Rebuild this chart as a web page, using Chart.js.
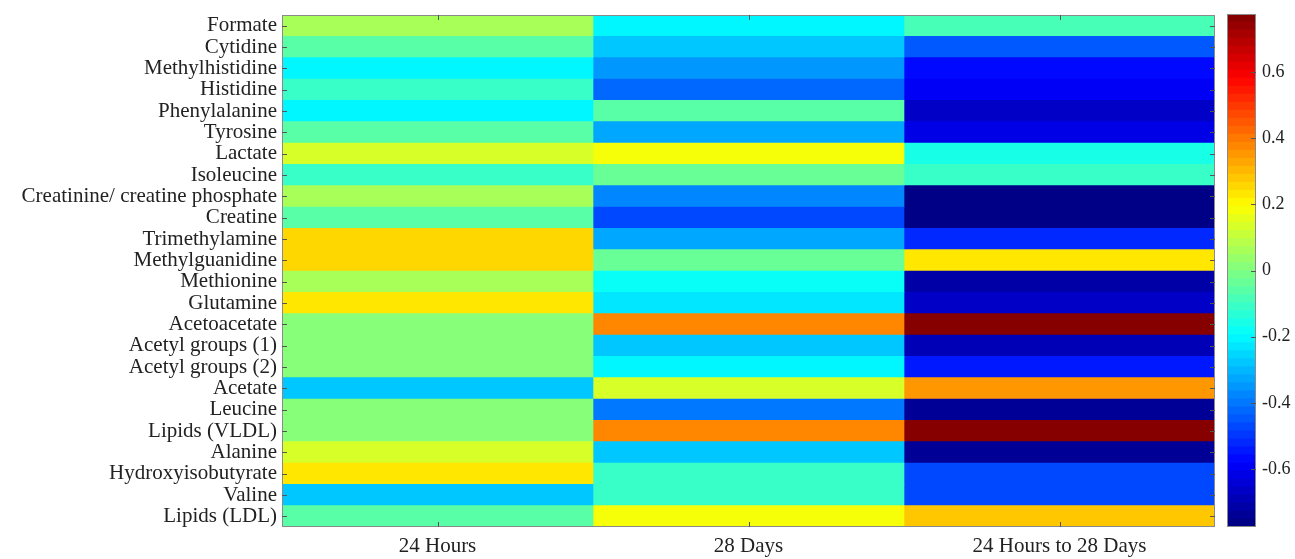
<!DOCTYPE html>
<html>
<head>
<meta charset="utf-8">
<script src="https://cdn.jsdelivr.net/npm/chart.js@4.4.0/dist/chart.umd.min.js"></script>
<style>
  body { margin: 0; background: #fff; }
  #wrap { position: relative; width: 1295px; height: 559px; }
  canvas { position: absolute; top: 0; }
</style>
</head>
<body>
<div id="wrap">
  <canvas id="heat" width="1220" height="559" style="left:0;width:1220px;height:559px"></canvas>
  <canvas id="cbar" width="75" height="559" style="left:1220px;width:75px;height:559px"></canvas>
</div>
<script>
// rows of the heat map, top to bottom
var metabolites = [
  "Formate", "Cytidine", "Methylhistidine", "Histidine", "Phenylalanine", "Tyrosine",
  "Lactate", "Isoleucine", "Creatinine/ creatine phosphate", "Creatine", "Trimethylamine",
  "Methylguanidine", "Methionine", "Glutamine", "Acetoacetate", "Acetyl groups (1)",
  "Acetyl groups (2)", "Acetate", "Leucine", "Lipids (VLDL)", "Alanine",
  "Hydroxyisobutyrate", "Valine", "Lipids (LDL)"
];
var columns = ["24 Hours", "28 Days", "24 Hours to 28 Days"];

// values (jet scale)
var hours24 = [0.05, -0.07, -0.2, -0.1, -0.2, -0.07, 0.14, -0.1, 0.05, -0.07, 0.25, 0.25,
               0.05, 0.22, 0.02, 0.02, 0.02, -0.29, 0.02, 0.02, 0.14, 0.22, -0.29, -0.05];
var days28 = [-0.2, -0.29, -0.35, -0.42, -0.07, -0.32, 0.17, -0.04, -0.37, -0.47, -0.32, -0.03,
              -0.18, -0.24, 0.37, -0.27, -0.2, 0.13, -0.4, 0.37, -0.27, -0.1, -0.1, 0.17];
var hoursToDays = [-0.09, -0.44, -0.58, -0.6, -0.66, -0.62, -0.15, -0.1, -0.76, -0.76, -0.52, 0.22,
                   -0.71, -0.66, 0.77, -0.7, -0.54, 0.35, -0.75, 0.77, -0.75, -0.48, -0.48, 0.27];

var colorTicks = [-0.6, -0.4, -0.2, 0, 0.2, 0.4, 0.6];
var vmin = -0.775, vmax = 0.775;

function clamp(x) { return Math.max(0, Math.min(1, x)); }

// matlab style jet, 64 levels
function jet(v) {
  var t = (v - vmin) / (vmax - vmin);
  var k = Math.min(63, Math.max(0, Math.floor(t * 64)));
  t = (k + 0.5) / 64;
  var r = clamp(1.5 - Math.abs(4 * t - 3));
  var g = clamp(1.5 - Math.abs(4 * t - 2));
  var b = clamp(1.5 - Math.abs(4 * t - 1));
  return 'rgb(' + Math.round(r * 255) + ',' + Math.round(g * 255) + ',' + Math.round(b * 255) + ')';
}

var serif = "'Liberation Serif', 'DejaVu Serif', serif";

// box round the plot plus small inward ticks
var boxPlugin = {
  id: 'box',
  afterDraw: function (chart, args, opts) {
    var c = chart.ctx, a = chart.chartArea;
    c.save();
    c.strokeStyle = '#8a8a8a';
    c.lineWidth = 1;
    c.strokeRect(Math.round(a.left) + 0.5, Math.round(a.top) + 0.5,
      Math.round(a.right - a.left) - 1, Math.round(a.bottom - a.top) - 1);
    c.strokeStyle = '#555';
    var len = 5;
    if (opts.yTicks) {
      var ys = chart.scales[opts.yTicks];
      ys.ticks.forEach(function (tk, i) {
        var y = Math.round(ys.getPixelForTick(i)) + 0.5;
        c.beginPath();
        if (opts.left) { c.moveTo(a.left, y); c.lineTo(a.left + len, y); }
        c.moveTo(a.right, y); c.lineTo(a.right - len, y);
        c.stroke();
      });
    }
    if (opts.xTicks) {
      var xs = chart.scales[opts.xTicks];
      xs.ticks.forEach(function (tk, i) {
        var x = Math.round(xs.getPixelForTick(i)) + 0.5;
        c.beginPath();
        c.moveTo(x, a.top); c.lineTo(x, a.top + len);
        c.moveTo(x, a.bottom); c.lineTo(x, a.bottom - len);
        c.stroke();
      });
    }
    c.restore();
  }
};

var series = [hours24, days28, hoursToDays];
var datasets = series.map(function (vals, j) {
  return {
    label: columns[j],
    data: vals.map(function () { return [j, j + 1]; }),
    backgroundColor: vals.map(jet),
    borderWidth: 0,
    barPercentage: 1,
    categoryPercentage: 1,
    grouped: false
  };
});

new Chart(document.getElementById('heat'), {
  type: 'bar',
  data: { labels: metabolites, datasets: datasets },
  plugins: [boxPlugin],
  options: {
    responsive: false,
    animation: false,
    indexAxis: 'y',
    layout: { padding: { top: 15, right: 5, bottom: 0, left: 0 } },
    plugins: {
      legend: { display: false },
      tooltip: { enabled: false },
      box: { yTicks: 'y', xTicks: 'x', left: true }
    },
    scales: {
      y: {
        type: 'category',
        grid: { display: false, drawTicks: false },
        border: { display: false },
        ticks: { color: '#222', padding: 5, autoSkip: false, font: { family: serif, size: 21 } },
        afterFit: function (s) { s.width = 282; s.paddingTop = 0; s.paddingBottom = 0; }
      },
      x: {
        type: 'linear',
        min: 0,
        max: 3,
        grid: { display: false, drawTicks: false },
        border: { display: false },
        afterBuildTicks: function (s) {
          s.ticks = columns.map(function (c, i) { return { value: i + 0.5 }; });
        },
        ticks: {
          color: '#222', padding: 7, maxRotation: 0, autoSkip: false,
          font: { family: serif, size: 21 },
          callback: function (v, i) { return columns[i]; }
        },
        afterFit: function (s) { s.height = 32; s.paddingLeft = 0; s.paddingRight = 0; }
      }
    }
  }
});

// colour bar: 64 stacked levels drawn on a linear scale
var step = (vmax - vmin) / 64;
var barSets = [];
for (var k = 0; k < 64; k++) {
  var lo = vmin + k * step;
  barSets.push({
    data: [[lo, lo + step]],
    backgroundColor: jet(lo + step / 2),
    borderWidth: 0,
    barPercentage: 1,
    categoryPercentage: 1,
    grouped: false
  });
}

new Chart(document.getElementById('cbar'), {
  type: 'bar',
  data: { labels: [''], datasets: barSets },
  plugins: [boxPlugin],
  options: {
    responsive: false,
    animation: false,
    layout: { padding: { top: 14, left: 7, right: 0, bottom: 32 } },
    plugins: {
      legend: { display: false },
      tooltip: { enabled: false },
      box: { yTicks: 'y', left: false }
    },
    scales: {
      x: { display: false },
      y: {
        type: 'linear',
        position: 'right',
        min: vmin,
        max: vmax,
        grid: { display: false, drawTicks: false },
        border: { display: false },
        afterBuildTicks: function (s) {
          s.ticks = colorTicks.map(function (v) { return { value: v }; });
        },
        ticks: {
          color: '#222', padding: 6, autoSkip: false,
          font: { family: serif, size: 18 },
          callback: function (v) { return v === 0 ? '0' : v.toFixed(1); }
        },
        afterFit: function (s) { s.width = 39; s.paddingTop = 0; s.paddingBottom = 0; }
      }
    }
  }
});
</script>
</body>
</html>
